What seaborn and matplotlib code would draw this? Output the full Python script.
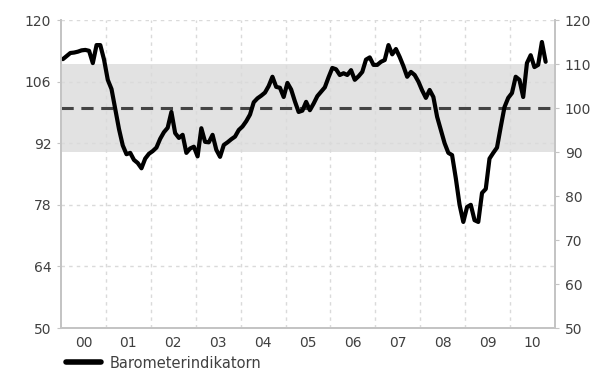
import numpy as np
import pandas as pd
import matplotlib
matplotlib.use("Agg")
import matplotlib.pyplot as plt
import seaborn as sns

# Monthly barometer indicator, Jan 2000 - Oct 2010
values = [
    111.1, 111.8, 112.5, 112.6, 112.8, 113.1, 113.2, 113.0, 110.2, 114.3, 114.3, 111.0,  # 2000
    106.4, 104.3, 99.8, 95.2, 91.5, 89.5, 89.8, 88.2, 87.5, 86.3, 88.5, 89.6,          # 2001
    90.2, 91.0, 93.0, 94.5, 95.5, 99.1, 94.3, 93.2, 93.9, 89.8, 90.8, 91.2,            # 2002
    89.0, 95.4, 92.3, 92.2, 93.9, 90.5, 88.9, 91.6, 92.2, 92.9, 93.5, 95.0,            # 2003
    95.8, 97.0, 98.5, 101.3, 102.2, 102.8, 103.5, 105.0, 107.1, 104.8, 104.6, 102.5,   # 2004
    105.7, 104.2, 101.5, 99.1, 99.4, 101.4, 99.5, 101.0, 102.7, 103.7, 104.7, 107.0,   # 2005
    109.1, 108.8, 107.5, 107.9, 107.5, 108.6, 106.4, 107.2, 108.2, 111.0, 111.5, 109.8, # 2006
    109.8, 110.5, 110.9, 114.3, 112.2, 113.4, 111.6, 109.5, 107.1, 108.2, 107.5, 106.0, # 2007
    104.0, 102.3, 104.1, 102.5, 98.0, 95.0, 92.0, 89.8, 89.3, 84.0, 78.0, 74.1,        # 2008
    77.5, 78.0, 74.5, 74.1, 80.7, 81.6, 88.5, 89.8, 91.0, 95.7, 100.2, 102.3,          # 2009
    103.4, 107.1, 106.4, 102.5, 110.2, 112.0, 109.3, 109.8, 115.0, 110.5,              # 2010
]
years = list(range(2000, 2011))
year_labels = ["00", "01", "02", "03", "04", "05", "06", "07", "08", "09", "10"]
left_ticks = [50, 64, 78, 92, 106, 120]
right_ticks = [50, 60, 70, 80, 90, 100, 110, 120]
band = (90, 110)
neutral = 100
series_name = "Barometerindikatorn"

t = 2000 + (np.arange(len(values)) + 0.5) / 12
df = pd.DataFrame({"t": t, "v": values})

sns.set_style("white")
plt.rcParams["font.family"] = ["DejaVu Sans"]
txt = "#404040"
grid_c = "#dadada"
spine_c = "#c4c4c4"

fig = plt.figure(figsize=(6.14, 3.86), dpi=100)
ax = fig.add_axes([61 / 614, 1 - 328 / 386, (555 - 61) / 614, (328 - 20) / 386])

ax.axhspan(band[0], band[1], color="#e2e2e2", zorder=0, lw=0)
for yv in left_ticks[1:]:
    ax.axhline(yv, color=grid_c, lw=1, ls=(0, (2.5, 3)), zorder=1)
for yr in years[1:]:
    ax.axvline(yr, color=grid_c, lw=1, ls=(0, (2.5, 3)), zorder=1)
ax.axhline(neutral, color="#444444", lw=2.2, ls=(0, (4, 2.5)), zorder=2)

sns.lineplot(data=df, x="t", y="v", ax=ax, color="black", lw=3.0,
             label=series_name, legend=False, zorder=3)

ax.set_xlim(2000, 2011)
ax.set_ylim(50, 120)
ax.set_xticks([y + 0.5 for y in years])
ax.set_xticklabels(year_labels)
ax.set_xticks(years[1:], minor=True)
ax.set_yticks(left_ticks)
ax.set_xlabel("")
ax.set_ylabel("")
ax.tick_params(axis="x", which="major", length=0, pad=6, labelsize=10, labelcolor=txt)
ax.tick_params(axis="x", which="minor", length=3, color=grid_c)
ax.tick_params(axis="y", length=3, color=spine_c, labelsize=10, labelcolor=txt, pad=4)

ax2 = ax.twinx()
ax2.set_ylim(50, 120)
ax2.set_yticks(right_ticks)
ax2.tick_params(axis="y", length=3, color=spine_c, labelsize=10, labelcolor=txt, pad=4)

for a in (ax, ax2):
    a.spines["top"].set_visible(False)
    for s in ("left", "right", "bottom"):
        a.spines[s].set_color(spine_c)
        a.spines[s].set_linewidth(1.3)

handles, labels = ax.get_legend_handles_labels()
leg = fig.legend(handles, labels, loc="center left", bbox_to_anchor=(66 / 614, 1 - 363 / 386),
                 frameon=False, fontsize=10.5, handlelength=2.4, handletextpad=0.6,
                 labelcolor=txt, borderaxespad=0, borderpad=0)
for h in leg.get_lines():
    h.set_linewidth(4)

fig.savefig("out.png", dpi=100)
